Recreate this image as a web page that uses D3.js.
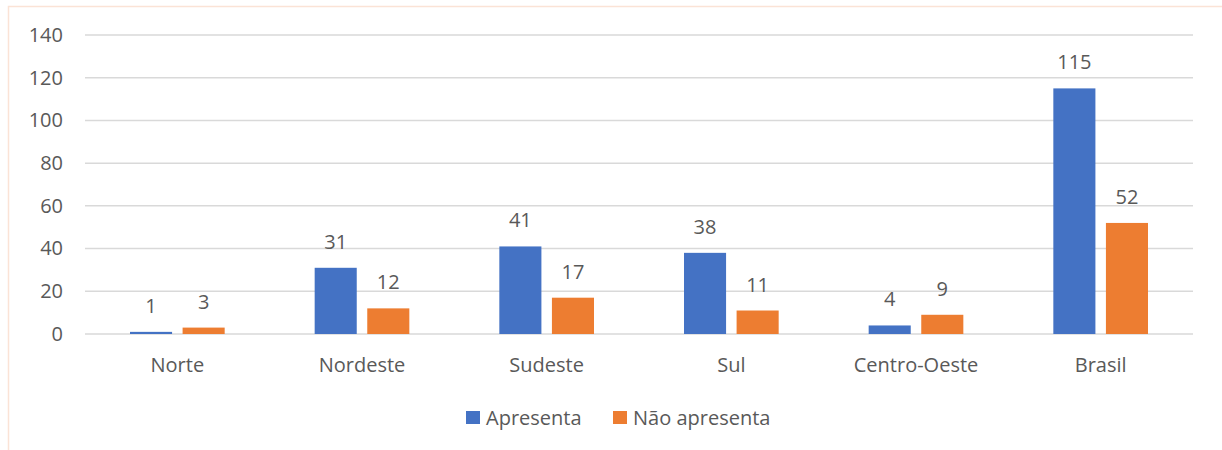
<!DOCTYPE html>
<html>
<head>
<meta charset="utf-8">
<script src="https://cdn.jsdelivr.net/npm/d3@7"></script>
<style>
  body { margin: 0; background: #fff; }
  text { font-family: "Open Sans", "Noto Sans", sans-serif; fill: #595959; }
</style>
</head>
<body>
<div id="chart"></div>
<script>
var regioes = ["Norte", "Nordeste", "Sudeste", "Sul", "Centro-Oeste", "Brasil"];
var apresenta = [1, 31, 41, 38, 4, 115];
var naoApresenta = [3, 12, 17, 11, 9, 52];
var series = ["Apresenta", "Não apresenta"];
var cores = ["#4472C4", "#ED7D31"];
var yTicks = [0, 20, 40, 60, 80, 100, 120, 140];

var W = 1222, H = 450;
var margin = {top: 35, right: 29, bottom: 116, left: 85};
var width = W - margin.left - margin.right,
    height = H - margin.top - margin.bottom;
var fonte = "20px";

var svg = d3.select("#chart")
  .append("svg")
  .attr("width", W)
  .attr("height", H);

// chart border (light peach, cropped at the top/right)
svg.append("rect")
  .attr("x", 8.5).attr("y", 6.5)
  .attr("width", W + 20).attr("height", H + 20)
  .attr("fill", "none")
  .attr("stroke", "#FBE3D6")
  .attr("stroke-width", 1.5);

var g = svg.append("g")
  .attr("transform", "translate(" + margin.left + "," + margin.top + ")");

var x = d3.scaleBand()
  .domain(regioes)
  .range([0, width])
  .paddingInner(0)
  .paddingOuter(0);

var x1 = d3.scaleBand()
  .domain(series)
  .range([45, x.bandwidth() - 45])
  .paddingInner(0.2);

var y = d3.scaleLinear()
  .domain([0, 140])
  .range([height, 0]);

// gridlines
g.selectAll(".grid")
  .data(yTicks)
  .enter()
  .append("line")
  .attr("x1", 0)
  .attr("x2", width)
  .attr("y1", function(d){ return y(d); })
  .attr("y2", function(d){ return y(d); })
  .attr("stroke", "#D9D9D9")
  .attr("stroke-width", 1.5);

// y axis labels
var yAxis = g.append("g")
  .call(d3.axisLeft(y).tickValues(yTicks).tickSize(0).tickPadding(22));
yAxis.select(".domain").remove();
yAxis.selectAll("text")
  .style("font-size", fonte)
  .style("font-family", "\"Open Sans\", \"Noto Sans\", sans-serif")
  .attr("fill", "#595959");

// x axis labels
var xAxis = g.append("g")
  .attr("transform", "translate(0," + height + ")")
  .call(d3.axisBottom(x).tickSize(0).tickPadding(24));
xAxis.select(".domain").remove();
xAxis.selectAll("text")
  .style("font-size", fonte)
  .style("font-family", "\"Open Sans\", \"Noto Sans\", sans-serif")
  .attr("fill", "#595959");

var valores = [apresenta, naoApresenta];

series.forEach(function(s, si) {
  var dados = regioes.map(function(r, i){ return {r: r, v: valores[si][i]}; });

  g.selectAll(".bar" + si)
    .data(dados)
    .enter()
    .append("rect")
    .attr("x", function(d){ return x(d.r) + x1(s); })
    .attr("y", function(d){ return y(d.v); })
    .attr("width", x1.bandwidth())
    .attr("height", function(d){ return height - y(d.v); })
    .attr("fill", cores[si]);

  g.selectAll(".lbl" + si)
    .data(dados)
    .enter()
    .append("text")
    .attr("x", function(d){ return x(d.r) + x1(s) + x1.bandwidth() / 2; })
    .attr("y", function(d){ return y(d.v) - 19; })
    .attr("text-anchor", "middle")
    .style("font-size", fonte)
    .text(function(d){ return d.v; });
});

// legend
var legend = svg.append("g");
var legX = [466, 613];
series.forEach(function(s, i) {
  legend.append("rect")
    .attr("x", legX[i]).attr("y", 411)
    .attr("width", 14).attr("height", 13)
    .attr("fill", cores[i]);
  legend.append("text")
    .attr("x", legX[i] + 20).attr("y", 425)
    .style("font-size", fonte)
    .text(s);
});
</script>
</body>
</html>
